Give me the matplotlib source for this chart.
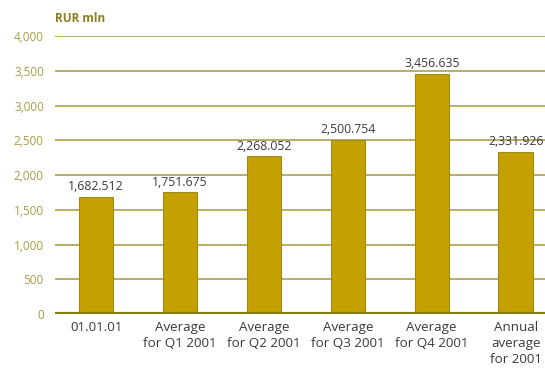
import matplotlib.pyplot as plt

categories = ['01.01.01', 'Average\nfor Q1 2001', 'Average\nfor Q2 2001',
              'Average\nfor Q3 2001', 'Average\nfor Q4 2001', 'Annual\naverage\nfor 2001']
values = [1682.512, 1751.675, 2268.052, 2500.754, 3456.635, 2331.926]
value_labels = ['1,682.512', '1,751.675', '2,268.052', '2,500.754', '3,456.635', '2,331.926']
yticks = [0, 500, 1000, 1500, 2000, 2500, 3000, 3500, 4000]

plt.rcParams['font.family'] = ['Open Sans', 'DejaVu Sans']

fig = plt.figure(figsize=(5.45, 3.69), dpi=100)
ax = fig.add_axes([0.101, 0.149, 0.899, 0.753])

for y in yticks[1:]:
    ax.axhline(y, color='#aea04a', lw=1.2, zorder=0)
ax.axhline(0, color='#8a7a10', lw=3, zorder=3)

x = list(range(len(categories)))
ax.bar(x, values, width=0.41, color='#c4a000', edgecolor='#9c8c20', lw=0.8, zorder=2)
for xi, v, lab in zip(x, values, value_labels):
    ax.text(xi, v + 55, lab, ha='center', va='bottom', fontsize=8.8, color='#3a3a3a')

ax.set_xlim(-0.49, 5.35)
ax.set_ylim(0, 4000)
ax.set_yticks(yticks)
ax.set_yticklabels([f'{t:,}' for t in yticks])
ax.set_xticks(x)
ax.set_xticklabels(categories, fontsize=9.6, color='#3a3a3a', linespacing=1.3)
ax.tick_params(axis='y', length=0, pad=8, labelsize=8.5, labelcolor='#a89c40')
ax.tick_params(axis='x', length=0, pad=5)
for s in ax.spines.values():
    s.set_visible(False)

fig.text(0.101, 0.951, 'RUR mln', fontsize=8.5, fontweight='bold', color='#8a7d1a', va='center')

fig.savefig('out.png', dpi=100)
